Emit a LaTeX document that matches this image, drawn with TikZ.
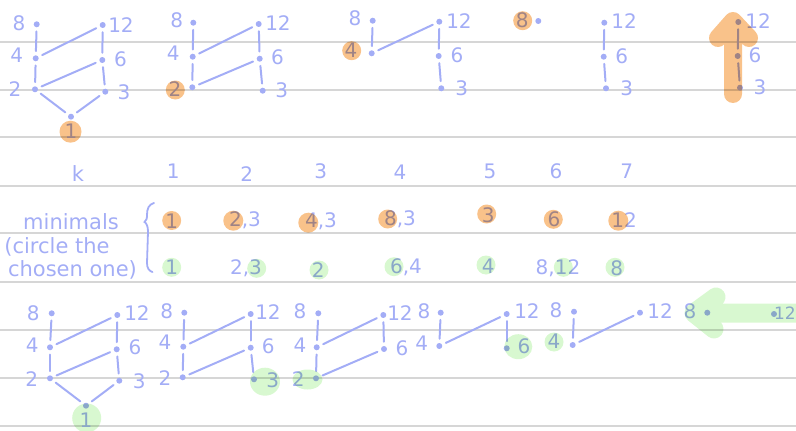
\documentclass[tikz,border=0pt]{standalone}
\usepackage{fontspec}
\setmainfont{DejaVu Sans}
\definecolor{lav}{RGB}{163,173,246}
\definecolor{hlorange}{RGB}{249,194,138}
\definecolor{hlgreen}{RGB}{216,248,208}
\definecolor{rulegray}{RGB}{214,214,214}
\tikzset{
  dot/.style={circle, fill=lav, inner sep=0pt, minimum size=6pt},
  lbl/.style={text=lav, font=\fontsize{20}{20}\selectfont, inner sep=0pt},
  word/.style={text=lav, font=\fontsize{21}{21}\selectfont, inner sep=0pt, anchor=base},
  edge/.style={draw=lav, line width=2pt, line cap=round, shorten <=4pt, shorten >=4pt},
  rule/.style={draw=rulegray, line width=1.8pt},
  brace/.style={draw=lav, line width=1.8pt, line cap=round},
  ohl/.style={fill=hlorange},
  ghl/.style={fill=hlgreen}
}
\begin{document}
\begin{tikzpicture}[x=1pt,y=-1pt]
\useasboundingbox (0,0) rectangle (796,431);
% ruled lines
\foreach \yy in {42,90,137,186,233,282,330,378,426}
  \draw[rule] (0,\yy) -- (796,\yy);

% ===== Top diagram 1 =====
\node[dot] (a8) at (36.7,24.3) {};
\node[dot] (a4) at (35.7,58.3) {};
\node[dot] (a2) at (35,89.3) {};
\node[dot] (a1) at (71,116.7) {};
\node[dot] (a12) at (102.7,25) {};
\node[dot] (a6) at (102.3,60) {};
\node[dot] (a3) at (105.3,91.7) {};
\node[lbl] (a8l) at (19,23) {8};
\node[lbl] (a4l) at (16.7,55) {4};
\node[lbl] (a2l) at (15,89) {2};
\node[lbl] (a12l) at (121,25) {12};
\node[lbl] (a6l) at (120.5,59) {6};
\node[lbl] (a3l) at (124,92.7) {3};
\node[lbl] (a1l) at (71,131.7) {1};
\draw[edge] (a8) -- (a4);
\draw[edge] (a4) -- (a2);
\draw[edge] (a4) -- (a12);
\draw[edge] (a2) -- (a6);
\draw[edge] (a12) -- (a6);
\draw[edge] (a6) -- (a3);
\draw[edge] (a2) -- (a1);
\draw[edge] (a1) -- (a3);

% ===== Top diagram 2 =====
\node[dot] (b8) at (193.3,22.7) {};
\node[dot] (b4) at (192.7,56.7) {};
\node[dot] (b2) at (192.3,87.3) {};
\node[dot] (b12) at (258.7,24) {};
\node[dot] (b6) at (259.7,58.7) {};
\node[dot] (b3) at (262.7,90.7) {};
\node[lbl] (b8l) at (176.7,20.7) {8};
\node[lbl] (b4l) at (173.3,53.3) {4};
\node[lbl] (b2l) at (175,89.3) {2};
\node[lbl] (b12l) at (278,22.7) {12};
\node[lbl] (b6l) at (277.5,57.3) {6};
\node[lbl] (b3l) at (281.7,90.7) {3};
\draw[edge] (b8) -- (b4);
\draw[edge] (b4) -- (b2);
\draw[edge] (b4) -- (b12);
\draw[edge] (b2) -- (b6);
\draw[edge] (b12) -- (b6);
\draw[edge] (b6) -- (b3);

% ===== Top diagram 3 =====
\node[dot] (c8) at (372.7,20.7) {};
\node[dot] (c4) at (371.7,53.3) {};
\node[dot] (c12) at (439.3,21.7) {};
\node[dot] (c6) at (438.7,56) {};
\node[dot] (c3) at (441.3,88.3) {};
\node[lbl] (c8l) at (355,18.3) {8};
\node[lbl] (c4l) at (351,50.7) {4};
\node[lbl] (c12l) at (459,20.7) {12};
\node[lbl] (c6l) at (457,55) {6};
\node[lbl] (c3l) at (461.7,88.3) {3};
\draw[edge] (c8) -- (c4);
\draw[edge] (c4) -- (c12);
\draw[edge] (c12) -- (c6);
\draw[edge] (c6) -- (c3);

% ===== Top diagram 4 =====
\node[dot] (d8) at (538.3,21) {};
\node[dot] (d12) at (604.3,22.7) {};
\node[dot] (d6) at (603.7,56.7) {};
\node[dot] (d3) at (606,88.3) {};
\node[lbl] (d8l) at (522.3,20.7) {8};
\node[lbl] (d12l) at (624,20.7) {12};
\node[lbl] (d6l) at (621.7,56) {6};
\node[lbl] (d3l) at (626.7,88.3) {3};
\draw[edge] (d12) -- (d6);
\draw[edge] (d6) -- (d3);

% ===== Top diagram 5 =====
\node[dot] (e12) at (738.3,22) {};
\node[dot] (e6) at (737.7,56) {};
\node[dot] (e3) at (740,87.7) {};
\node[lbl] (e12l) at (758,20.7) {12};
\node[lbl] (e6l) at (755,55) {6};
\node[lbl] (e3l) at (760,87.7) {3};
\draw[edge] (e12) -- (e6);
\draw[edge] (e6) -- (e3);

% ===== Table =====
\node[word] (kk) at (78,181.7) {k};
\node[lbl] (k1) at (173.3,171.7) {1};
\node[lbl] (k2) at (246.7,174) {2};
\node[lbl] (k3) at (320.7,171.7) {3};
\node[lbl] (k4) at (400,172) {4};
\node[lbl] (k5) at (490,171.7) {5};
\node[lbl] (k6) at (556,171.7) {6};
\node[lbl] (k7) at (626.7,171.7) {7};

\node[word] (wmin) at (71,229.5) {minimals};
\node[word] (wcirc) at (57,253.3) {(circle the};
\node[word] (wchos) at (72.5,276.7) {chosen one)};
\draw[brace] (154,203) .. controls (148.5,204.5) and (147,209) .. (147,215)
  .. controls (147,218.5) and (146.5,220.5) .. (144.5,222)
  .. controls (147,223.5) and (148,227) .. (148,232)
  -- (147,263) .. controls (147,268) and (149,271) .. (152.5,272);

\node[lbl] (m1) at (171.7,221.7) {1};
\node[lbl] (m2) at (245,220.5) {2,3};
\node[lbl] (m3) at (321,221) {4,3};
\node[lbl] (m4) at (400,219) {8,3};
\node[lbl] (m5) at (488.3,215) {3};
\node[lbl] (m6) at (554,219.3) {6};
\node[lbl] (m7) at (624,220) {12};

\node[lbl] (s1) at (171.7,267.3) {1};
\node[lbl] (s2) at (246,268) {2,3};
\node[lbl] (s3) at (318.3,270) {2};
\node[lbl] (s4) at (406,267) {6,4};
\node[lbl] (s5) at (488.3,266.7) {4};
\node[lbl] (s6) at (558,268.3) {8,12};
\node[lbl] (s7) at (616.7,268.3) {8};

% ===== Bottom diagram 1 =====
\node[dot] (f8) at (51.7,313.3) {};
\node[dot] (f4) at (50,347.3) {};
\node[dot] (f2) at (50,378.3) {};
\node[dot] (f1) at (86,405.7) {};
\node[dot] (f12) at (117.3,315) {};
\node[dot] (f6) at (116.7,349.3) {};
\node[dot] (f3) at (119.3,380.7) {};
\node[lbl] (f8l) at (33.3,313.3) {8};
\node[lbl] (f4l) at (32.3,345) {4};
\node[lbl] (f2l) at (31.7,379.3) {2};
\node[lbl] (f12l) at (137,312.7) {12};
\node[lbl] (f6l) at (135,347.7) {6};
\node[lbl] (f3l) at (139.3,381.7) {3};
\node[lbl] (f1l) at (86,420) {1};
\draw[edge] (f8) -- (f4);
\draw[edge] (f4) -- (f2);
\draw[edge] (f4) -- (f12);
\draw[edge] (f2) -- (f6);
\draw[edge] (f12) -- (f6);
\draw[edge] (f6) -- (f3);
\draw[edge] (f2) -- (f1);
\draw[edge] (f1) -- (f3);

% ===== Bottom diagram 2 =====
\node[dot] (g8) at (184.3,312.7) {};
\node[dot] (g4) at (183.3,346.7) {};
\node[dot] (g2) at (182.7,377.3) {};
\node[dot] (g12) at (250.7,314) {};
\node[dot] (g6) at (250.7,347.7) {};
\node[dot] (g3) at (254,379.3) {};
\node[lbl] (g8l) at (166.7,311.7) {8};
\node[lbl] (g4l) at (165,342) {4};
\node[lbl] (g2l) at (165,378.3) {2};
\node[lbl] (g12l) at (268,312) {12};
\node[lbl] (g6l) at (268.3,346.7) {6};
\node[lbl] (g3l) at (272.7,380.7) {3};
\draw[edge] (g8) -- (g4);
\draw[edge] (g4) -- (g2);
\draw[edge] (g4) -- (g12);
\draw[edge] (g2) -- (g6);
\draw[edge] (g12) -- (g6);
\draw[edge] (g6) -- (g3);

% ===== Bottom diagram 3 =====
\node[dot] (h8) at (318.3,313.3) {};
\node[dot] (h4) at (316.7,347.3) {};
\node[dot] (h2) at (316,378.3) {};
\node[dot] (h12) at (383.3,315) {};
\node[dot] (h6) at (384,349) {};
\node[lbl] (h8l) at (300,311.7) {8};
\node[lbl] (h4l) at (300,345) {4};
\node[lbl] (h2l) at (298.3,379.3) {2};
\node[lbl] (h12l) at (400,313) {12};
\node[lbl] (h6l) at (402,348) {6};
\draw[edge] (h8) -- (h4);
\draw[edge] (h4) -- (h2);
\draw[edge] (h4) -- (h12);
\draw[edge] (h2) -- (h6);
\draw[edge] (h12) -- (h6);

% ===== Bottom diagram 4 =====
\node[dot] (i8) at (440.7,312.7) {};
\node[dot] (i4) at (439.3,346) {};
\node[dot] (i12) at (506.7,314) {};
\node[dot] (i6) at (506.7,348.3) {};
\node[lbl] (i8l) at (424,311.7) {8};
\node[lbl] (i4l) at (421.7,343.3) {4};
\node[lbl] (i12l) at (527,311) {12};
\node[lbl] (i6l) at (524,346.7) {6};
\draw[edge] (i8) -- (i4);
\draw[edge] (i4) -- (i12);
\draw[edge] (i12) -- (i6);

% ===== Bottom diagram 5 =====
\node[dot] (j8) at (574,311.7) {};
\node[dot] (j4) at (572.7,345) {};
\node[dot] (j12) at (640,312.7) {};
\node[lbl] (j8l) at (556,310) {8};
\node[lbl] (j4l) at (554,341.7) {4};
\node[lbl] (j12l) at (660,310.7) {12};
\draw[edge] (j8) -- (j4);
\draw[edge] (j4) -- (j12);

% ===== Bottom diagram 6 =====
\node[dot] (m8) at (707.3,312.7) {};
\node[dot] (m12) at (774,314) {};
\node[lbl] (m8l) at (690,311.7) {8};
\node[lbl, anchor=east, font=\fontsize{17}{17}\selectfont] (m12l) at (796,313) {12};

% ===== Highlights (multiply) =====
\begin{scope}[blend mode=multiply]
  % orange
  \fill[ohl] (70.5,131.7) circle (11);
  \fill[ohl] (175.3,90) circle (9.5);
  \fill[ohl] (351.7,50.7) circle (9.5);
  \fill[ohl] (522.7,20.7) circle (9.5);
  \draw[hlorange, line width=18pt, line cap=round, line join=round]
     (733,94) -- (733,21) (718,38) -- (733,21) -- (749,38);
  \fill[ohl] (171.7,220.5) circle (9.5);
  \fill[ohl] (233.3,220.7) circle (10);
  \fill[ohl] (308.3,222.7) circle (10);
  \fill[ohl] (387.7,219) circle (9.5);
  \fill[ohl] (486.7,214) circle (9.5);
  \fill[ohl] (553.3,219.3) circle (9.5);
  \fill[ohl] (618.3,220.7) circle (10);
  % green
  \fill[ghl] (171.7,267.3) circle (9.5);
  \fill[ghl] (256.7,268.3) circle (9.5);
  \fill[ghl] (319,270) circle (9.5);
  \fill[ghl] (394,266.7) circle (9.5);
  \fill[ghl] (486,265) circle (9.5);
  \fill[ghl] (563.3,267.3) circle (9.5);
  \fill[ghl] (615,267.3) circle (9.5);
  \fill[ghl] (86.7,418) circle (14.5);
  \fill[ghl] (265,381.7) ellipse (15 and 14);
  \fill[ghl] (307.5,379.5) ellipse (15 and 10);
  \fill[ghl] (518.3,346.7) ellipse (14 and 12.5);
  \fill[ghl] (554,342) circle (9.5);
  \draw[hlgreen, line width=19pt, line cap=round, line join=round]
     (705,313) -- (805,313) (716,297) -- (694,313) -- (714,329);
\end{scope}
\end{tikzpicture}
\end{document}
